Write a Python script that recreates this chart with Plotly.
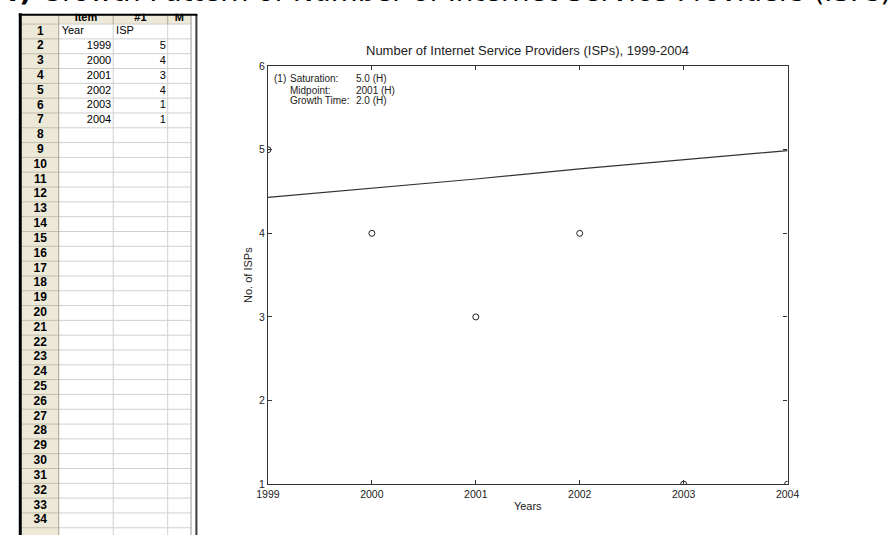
import plotly.graph_objects as go

# Source data (sheet columns "Year" and "ISP")
years = [1999, 2000, 2001, 2002, 2003, 2004]
isp_counts = [5, 4, 3, 4, 1, 1]

# Fitted growth curve evaluated at each year
fit_values = [4.43, 4.54, 4.65, 4.77, 4.88, 4.99]

# Fit parameters shown in the plot
fit_labels = ["Saturation:", "Midpoint:", "Growth Time:"]
fit_params = ["5.0 (H)", "2001 (H)", "2.0 (H)"]

# Worksheet layout
sheet_rows = 35
col_headers = ["Item", "#1", "M"]
col_names = ["Year", "ISP"]

W, H = 893, 541


def px(x):
    return x / W


def py(y):
    return 1 - y / H


FONT = "Liberation Sans, Arial, sans-serif"
NARROW = "Liberation Sans Narrow, Arial Narrow, Liberation Sans, sans-serif"
BEIGE = "#ECE9D8"

# worksheet geometry, in screen pixels (x2 / y2 axes run in pixels)
col_edges = [10, 48, 104, 160, 184]
row_top0, row_h = 18.5, 15.15
head_top = 9
row_tops = [row_top0 + i * row_h for i in range(sheet_rows + 1)]
row_mid = [t + row_h / 2 for t in row_tops[:sheet_rows]]

fig = go.Figure()

# ---- scatter chart ----
fig.add_trace(go.Scatter(
    x=years, y=fit_values, mode="lines",
    line=dict(color="#333333", width=1.2),
    hoverinfo="skip", showlegend=False,
))
fig.add_trace(go.Scatter(
    x=years, y=isp_counts, mode="markers",
    marker=dict(symbol="circle-open", size=6, color="#222222", line=dict(width=1)),
    cliponaxis=True, showlegend=False,
))

# ---- worksheet text ----
cell_font = dict(family=FONT, size=11, color="#000")
# row numbers
fig.add_trace(go.Scatter(
    x=[(col_edges[0] + col_edges[1]) / 2] * sheet_rows, y=row_mid,
    text=[str(i) for i in range(1, sheet_rows + 1)], mode="text",
    textposition="middle center",
    textfont=dict(family=NARROW, size=12, color="#000", weight="bold"),
    xaxis="x2", yaxis="y2", hoverinfo="skip", showlegend=False, cliponaxis=False,
))
# column headers
fig.add_trace(go.Scatter(
    x=[(col_edges[i] + col_edges[i + 1]) / 2 for i in range(1, 4)], y=[12.5] * 3,
    text=col_headers, mode="text", textposition="middle center",
    textfont=dict(family=FONT, size=11, color="#000", weight="bold"),
    xaxis="x2", yaxis="y2", hoverinfo="skip", showlegend=False, cliponaxis=False,
))
# row 1 labels (left aligned)
fig.add_trace(go.Scatter(
    x=[col_edges[1] + 3, col_edges[2] + 3], y=[row_mid[0]] * 2,
    text=col_names, mode="text", textposition="middle right", textfont=cell_font,
    xaxis="x2", yaxis="y2", hoverinfo="skip", showlegend=False, cliponaxis=False,
))
# year values (right aligned)
fig.add_trace(go.Scatter(
    x=[col_edges[2] - 2] * len(years), y=row_mid[1:1 + len(years)],
    text=[str(v) for v in years], mode="text", textposition="middle left",
    textfont=cell_font,
    xaxis="x2", yaxis="y2", hoverinfo="skip", showlegend=False, cliponaxis=False,
))
# ISP values (right aligned)
fig.add_trace(go.Scatter(
    x=[col_edges[3] - 2] * len(isp_counts), y=row_mid[1:1 + len(isp_counts)],
    text=[str(v) for v in isp_counts], mode="text", textposition="middle left",
    textfont=cell_font,
    xaxis="x2", yaxis="y2", hoverinfo="skip", showlegend=False, cliponaxis=False,
))

axis_common = dict(
    showgrid=False, zeroline=False,
    showline=True, linecolor="#333333", linewidth=1.2, mirror="ticks",
    ticks="inside", ticklen=4, tickcolor="#333333", tickwidth=1,
    tickfont=dict(family=FONT, size=10.5, color="#222"),
)

fig.update_layout(
    width=W, height=H,
    margin=dict(l=0, r=0, t=0, b=0),
    paper_bgcolor="white", plot_bgcolor="white",
    font=dict(family=FONT, color="#222"),
    showlegend=False,
    xaxis=dict(
        domain=[px(263), px(797)], range=[1999, 2004], dtick=1, tickformat="d",
        title=dict(text="Years", font=dict(family=FONT, size=11, color="#222"), standoff=3),
        **axis_common,
    ),
    yaxis=dict(
        domain=[py(489), py(61.5)], range=[1, 6], dtick=1,
        title=dict(text="No. of ISPs", font=dict(family=FONT, size=11, color="#222"), standoff=4),
        **axis_common,
    ),
    xaxis2=dict(domain=[0, px(192)], range=[0, 192], visible=False, fixedrange=True),
    yaxis2=dict(domain=[0, 1], range=[H, 0], visible=False, fixedrange=True, anchor="x2"),
)


def rect(x0, x1, y0, y1, color, layer="below"):
    fig.add_shape(type="rect", xref="x2", yref="y2", x0=x0, x1=x1, y0=y0, y1=y1,
                  fillcolor=color, line=dict(width=0), layer=layer)


def line(x0, x1, y0, y1, color, width=1, layer="below"):
    fig.add_shape(type="line", xref="x2", yref="y2", x0=x0, x1=x1, y0=y0, y1=y1,
                  line=dict(color=color, width=width), layer=layer)


# beige row-number column and column-header row
rect(col_edges[0], col_edges[1], head_top, H, BEIGE)
rect(col_edges[1], col_edges[-1], head_top, row_top0, BEIGE)

# grid lines
for t in row_tops:
    line(col_edges[1], col_edges[-1], t, t, "#D0D0D0")
    line(col_edges[0], col_edges[1], t, t, "#C2BEAA")
for x in col_edges[2:4]:
    line(x, x, row_top0, H, "#D0D0D0")
    line(x, x, head_top, row_top0, "#B0AC98")
line(col_edges[1], col_edges[1], head_top, H, "#A8A490")
line(col_edges[-1], col_edges[-1], head_top, H, "#999999")
line(189.5, 189.5, head_top, H, "#3A3A3A", width=2)

# white band behind the page heading, then the window's black frame
fig.add_shape(type="rect", xref="paper", yref="paper", x0=0, x1=1, y0=py(8), y1=1,
              fillcolor="white", line=dict(width=0), layer="above")
line(8.5, 8.5, 7.5, H, "#000000", width=3, layer="above")
line(7, 190.5, 9, 9, "#000000", width=2, layer="above")

# page heading, partly scrolled off the top
fig.add_annotation(
    xref="paper", yref="paper", x=px(-14), y=py(-14.5), xanchor="left", yanchor="middle",
    text="<b>4)</b> Growth Pattern of Number of Internet Service Providers (ISPs), 1999-2004",
    showarrow=False, font=dict(family="DejaVu Sans, Verdana, sans-serif", size=27.6, color="#000"),
)

# chart title
fig.add_annotation(
    xref="paper", yref="paper", x=px(530), y=py(46), xanchor="center", yanchor="middle",
    text="Number of Internet Service Providers (ISPs), 1999-2004",
    showarrow=False, font=dict(family=FONT, size=13, color="#222"),
)

# fit parameter box
line_y = [74, 86, 97]
fig.add_annotation(xref="paper", yref="paper", x=px(267), y=py(line_y[0]),
                   xanchor="left", yanchor="middle", text="(1)", showarrow=False,
                   font=dict(family=FONT, size=10, color="#222"))
for lbl, val, yy in zip(fit_labels, fit_params, line_y):
    fig.add_annotation(xref="paper", yref="paper", x=px(284), y=py(yy),
                       xanchor="left", yanchor="middle", text=lbl, showarrow=False,
                       font=dict(family=FONT, size=10, color="#222"))
    fig.add_annotation(xref="paper", yref="paper", x=px(351), y=py(yy),
                       xanchor="left", yanchor="middle", text=val, showarrow=False,
                       font=dict(family=FONT, size=10, color="#222"))

fig.write_html("out.html")
